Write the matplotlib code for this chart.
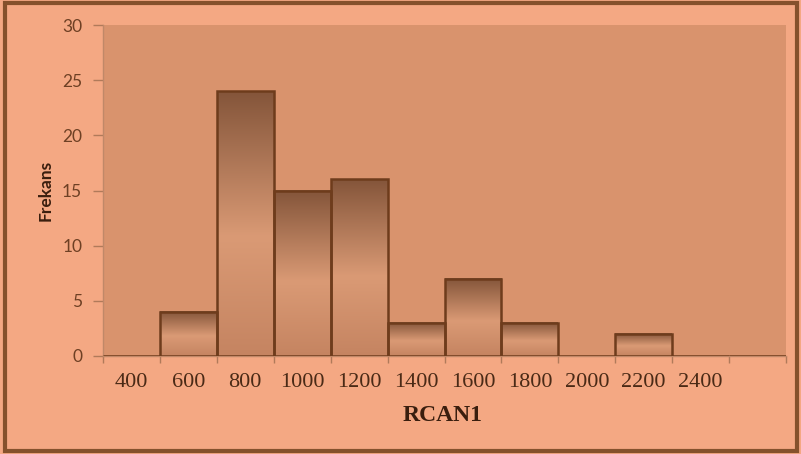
import numpy as np
import matplotlib
matplotlib.use("Agg")
import matplotlib.pyplot as plt
from matplotlib.patches import Rectangle
from matplotlib.colors import LinearSegmentedColormap

# Data
categories = ["400", "600", "800", "1000", "1200", "1400", "1600", "1800", "2000", "2200", "2400", ""]
frequencies = [0, 4, 24, 15, 16, 3, 7, 3, 0, 2, 0, 0]
y_ticks = [0, 5, 10, 15, 20, 25, 30]

outer_bg = "#f4a883"
plot_bg = "#d9936d"
edge_col = "#6e3c1c"
border_col = "#85512c"

fig = plt.figure(figsize=(8.01, 4.54), dpi=100)
fig.patch.set_facecolor(outer_bg)
ax = fig.add_axes([103/801, 1-356/454, (786-103)/801, (356-25)/454])
ax.set_facecolor(plot_bg)

cmap = LinearSegmentedColormap.from_list(
    "bar", [(0.0, "#c58461"), (0.45, "#da9a75"), (1.0, "#84553a")])
grad = np.linspace(0, 1, 256).reshape(-1, 1)

x = np.arange(len(categories))
for xi, h in zip(x, frequencies):
    if h <= 0:
        continue
    ax.imshow(grad, cmap=cmap, origin="lower", aspect="auto",
              extent=(xi-0.5, xi+0.5, 0, h), zorder=2, interpolation="bilinear")
bars = ax.bar(x, frequencies, width=1.0, facecolor="none", edgecolor=edge_col,
              linewidth=1.8, zorder=3)

ax.set_xlim(-0.5, len(categories)-0.5)
ax.set_ylim(0, 30)
ax.set_yticks(y_ticks)
ax.set_yticklabels([str(v) for v in y_ticks], family="Lato", fontsize=12.5, color="#6e4024")
ax.set_xticks(x[:-1])
ax.set_xticklabels(categories[:-1], family="Liberation Serif", fontsize=16, color="#4a2a16")
ax.set_xticks(np.arange(-0.5, len(categories)), minor=True)
ax.tick_params(axis="x", which="major", length=0, pad=12)
ax.tick_params(axis="x", which="minor", length=5, color="#b07a5a", width=1)
ax.tick_params(axis="y", length=7, color="#b07a5a", width=1, pad=8)

for s in ["top", "right"]:
    ax.spines[s].set_visible(False)
for s in ["left", "bottom"]:
    ax.spines[s].set_color("#c08868")
    ax.spines[s].set_linewidth(1)

ax.set_xlabel("RCAN1", family="Liberation Serif", fontweight="bold", fontsize=17,
              color="#3a1e0e")
ax.set_ylabel("Frekans", family="Lato", fontweight="bold", fontsize=12.5,
              color="#3a1e0e")
ax.xaxis.set_label_coords((443-103)/(786-103), -(405-356)/(356-25))
ax.yaxis.set_label_coords(-(103-54)/(786-103), (356-190)/(356-25))

fig.patches.append(Rectangle((5/801, 3/454), 792/801, 448/454, transform=fig.transFigure,
                             fill=False, edgecolor=border_col, linewidth=3))

fig.savefig("out.png", dpi=100, facecolor=fig.get_facecolor())
